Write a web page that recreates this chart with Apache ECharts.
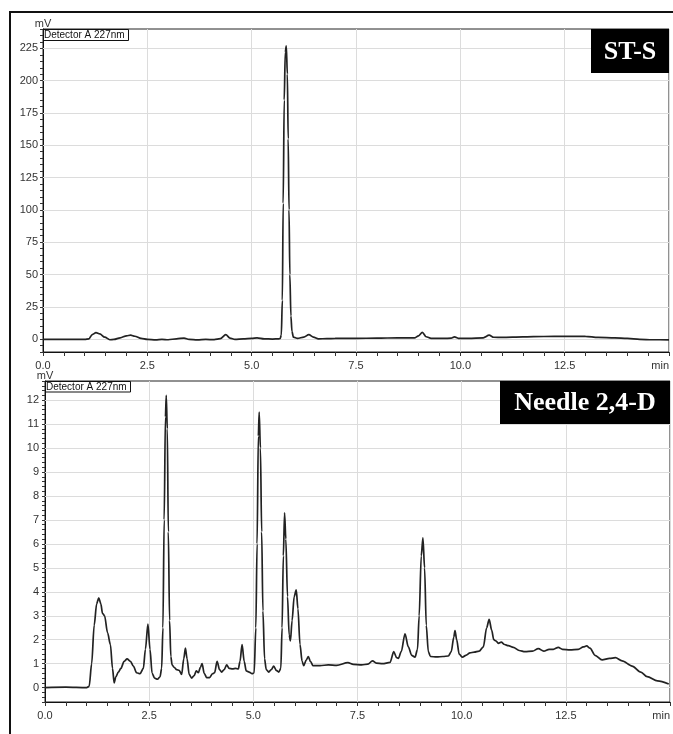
<!DOCTYPE html>
<html>
<head>
<meta charset="utf-8">
<script src="https://cdn.jsdelivr.net/npm/echarts@6/dist/echarts.min.js"></script>
<style>
  html, body { margin: 0; padding: 0; background: #fff; }
  #main { width: 673px; height: 734px; }
</style>
</head>
<body>
<div id="main"></div>
<script>
// ST-S chromatogram (time in min, signal in mV)
var stTime = [0.0, 0.5, 1.0, 1.1, 1.18, 1.27, 1.36, 1.48, 1.6, 1.7, 1.85, 2.0, 2.1, 2.2, 2.35, 2.5, 2.7, 2.85, 3.0, 3.2, 3.38, 3.5, 3.7, 3.9, 4.1, 4.25, 4.38, 4.48, 4.6, 4.8, 5.0, 5.13, 5.3, 5.5, 5.65,
  5.68, 5.71, 5.735, 5.755, 5.78, 5.805, 5.83, 5.855, 5.875, 5.895, 5.915, 5.94, 5.965, 6.0, 6.1, 6.25, 6.37, 6.48, 6.6, 6.8, 7.0, 7.5, 8.0, 8.5, 8.9,
  9.0, 9.09, 9.18, 9.3, 9.6, 9.78, 9.86, 9.95, 10.2, 10.55, 10.69, 10.8, 11.0, 11.5, 12.0, 12.5, 13.0, 13.3, 13.7, 14.0, 14.3, 14.6, 15.0];
var stMv = [-0.3, -0.3, -0.3, 0.2, 3.5, 5.0, 4.0, 1.5, -0.5, -0.3, 1.0, 2.5, 3.0, 2.2, 0.5, -0.3, -0.6, -0.2, -0.5, 0.2, 0.8, -0.2, -0.6, -0.3, -0.4, 0.3, 3.4, 0.8, -0.2, 0.2, 0.6, 1.0, 0.2, 0.0, 0.2,
  0.3, 3, 30, 105, 185, 222, 227, 205, 155, 100, 50, 18, 6, 1.5, 0.5, 1.5, 3.4, 1.5, 0.2, 0.3, 0.5, 0.6, 0.7, 1.0, 0.9,
  2.5, 5.2, 1.8, 0.6, 0.5, 0.7, 1.7, 0.6, 0.6, 1.0, 3.0, 1.4, 1.3, 1.7, 2.0, 2.2, 2.1, 1.3, 0.9, 0.5, -0.2, -0.5, -0.6];

// Needle 2,4-D chromatogram
var ndTime = [0.0, 0.5, 1.0, 1.06, 1.12, 1.18, 1.24, 1.29, 1.34, 1.38, 1.43, 1.5, 1.57, 1.62, 1.66, 1.7, 1.76, 1.82, 1.9, 1.97, 2.05, 2.12, 2.2, 2.28, 2.36, 2.41, 2.47, 2.52, 2.57, 2.63, 2.7, 2.76,
  2.8, 2.83, 2.86, 2.89, 2.91, 2.935, 2.96, 2.99, 3.02, 3.05, 3.1, 3.16, 3.22, 3.28, 3.33, 3.37, 3.41, 3.46, 3.52, 3.58, 3.63, 3.68, 3.73, 3.77, 3.82, 3.88, 3.95,
  4.02, 4.07, 4.13, 4.19, 4.24, 4.3, 4.36, 4.42, 4.5, 4.58, 4.64, 4.68, 4.73, 4.78, 4.83, 4.9, 4.97, 5.02, 5.06, 5.09, 5.12, 5.14, 5.17, 5.2, 5.23, 5.27, 5.31, 5.37, 5.43, 5.49, 5.55, 5.61, 5.66,
  5.69, 5.72, 5.75, 5.78, 5.82, 5.86, 5.89, 5.93, 5.98, 6.03, 6.07, 6.12, 6.17, 6.21, 6.27, 6.32, 6.37, 6.43, 6.6, 6.8, 7.0, 7.27, 7.4, 7.6, 7.75, 7.86, 7.95, 8.1, 8.28, 8.37, 8.44, 8.48,
  8.55, 8.64, 8.72, 8.8, 8.88, 8.94, 8.98, 9.03, 9.07, 9.11, 9.15, 9.2, 9.25, 9.4, 9.55, 9.68, 9.75, 9.81, 9.84, 9.88, 9.94, 10.02, 10.1, 10.2, 10.3, 10.42, 10.52, 10.6, 10.66, 10.72, 10.77,
  10.82, 10.88, 10.95, 11.03, 11.12, 11.24, 11.38, 11.52, 11.7, 11.84, 11.97, 12.1, 12.2, 12.32, 12.42, 12.6, 12.8, 12.92, 13.0, 13.08, 13.2, 13.37, 13.55, 13.69, 13.85, 14.09, 14.3, 14.45, 14.7, 14.97];
var ndMv = [0.0, 0.02, 0.0, 0.05, 1.0, 2.6, 3.5, 3.75, 3.5, 3.1, 3.0, 2.3, 1.8, 0.8, 0.2, 0.45, 0.65, 0.8, 1.1, 1.2, 1.1, 0.9, 0.62, 0.58, 0.8, 1.6, 2.65, 1.6, 0.6, 0.4, 0.35, 0.45,
  0.8, 2.5, 7.0, 11.3, 12.2, 10.8, 6.5, 2.8, 1.3, 0.95, 0.85, 0.75, 0.72, 0.55, 1.2, 1.65, 1.2, 0.55, 0.4, 0.5, 0.7, 0.62, 0.85, 1.0, 0.6, 0.42, 0.42,
  0.58, 0.62, 1.1, 0.75, 0.65, 0.75, 0.95, 0.8, 0.78, 0.8, 0.78, 1.1, 1.8, 1.1, 0.7, 0.65, 0.58, 0.62, 2.5, 6.0, 10.5, 11.5, 10.0, 6.5, 3.2, 1.2, 0.75, 0.65, 0.75, 0.9, 0.72, 0.65, 0.8,
  2.5, 5.5, 7.3, 6.2, 3.8, 2.2, 1.95, 2.8, 3.8, 4.08, 3.3, 1.8, 1.1, 0.92, 1.15, 1.3, 1.1, 0.92, 0.92, 0.95, 0.93, 1.04, 0.97, 0.95, 0.98, 1.12, 1.02, 1.0, 1.05, 1.5, 1.25, 1.22,
  1.5, 2.25, 1.7, 1.35, 1.27, 1.6, 3.0, 5.5, 6.25, 5.0, 2.6, 1.5, 1.3, 1.28, 1.3, 1.32, 1.5, 2.1, 2.38, 2.0, 1.4, 1.27, 1.35, 1.45, 1.48, 1.52, 1.7, 2.5, 2.85, 2.4, 2.0,
  1.95, 1.85, 1.9, 1.8, 1.75, 1.68, 1.55, 1.5, 1.52, 1.63, 1.52, 1.6, 1.6, 1.68, 1.6, 1.58, 1.6, 1.7, 1.74, 1.65, 1.35, 1.16, 1.22, 1.25, 1.12, 0.9, 0.65, 0.46, 0.28, 0.15];

// gridline / label values
var stGridY = [0, 25, 50, 75, 100, 125, 150, 175, 200, 225];
var ndGridY = [0, 1, 2, 3, 4, 5, 6, 7, 8, 9, 10, 11, 12];

function pairs(t, v) {
  return t.map(function (x, i) { return [x, v[i]]; });
}

var labelFont = { color: '#333', fontSize: 11, fontFamily: 'Liberation Sans, Arial, sans-serif' };

function xAxisFor(idx) {
  return {
    type: 'value', gridIndex: idx, min: 0, max: 15, interval: 2.5,
    axisLine: { show: true, onZero: false, lineStyle: { color: '#111', width: 1 } },
    axisTick: { show: true, length: 4, lineStyle: { color: '#333' } },
    minorTick: { show: true, splitNumber: 5, length: 4, lineStyle: { color: '#333' } },
    splitLine: { show: true, lineStyle: { color: '#dcdcdc', width: 1 } },
    axisLabel: Object.assign({
      margin: 8,
      alignMaxLabel: 'right',
      formatter: function (v) { return v === 15 ? 'min' : v.toFixed(1); }
    }, labelFont)
  };
}

function gridLines(vals) {
  return {
    silent: true, z: 1, symbol: ['none', 'none'], animation: false,
    label: { show: false },
    lineStyle: { color: '#dcdcdc', type: 'solid', width: 1 },
    data: vals.map(function (v) { return { yAxis: v }; })
  };
}

var chart = echarts.init(document.getElementById('main'));
chart.setOption({
  backgroundColor: '#fff',
  animation: false,
  grid: [
    { left: 43, top: 29, right: 4, bottom: 382, show: true, borderColor: '#222', borderWidth: 1, outerBoundsMode: 'none' },
    { left: 45, top: 381, right: 3, bottom: 32, show: true, borderColor: '#222', borderWidth: 1, outerBoundsMode: 'none' }
  ],
  xAxis: [xAxisFor(0), xAxisFor(1)],
  yAxis: [
    {
      type: 'value', gridIndex: 0, min: -10, max: 240, interval: 5,
      axisLine: { show: true, onZero: false, lineStyle: { color: '#111' } },
      axisTick: { show: true, length: 3, lineStyle: { color: '#333' } },
      splitLine: { show: false },
      axisLabel: Object.assign({
        margin: 5,
        formatter: function (v) { return v % 25 === 0 ? String(v) : ''; }
      }, labelFont)
    },
    {
      type: 'value', gridIndex: 1, min: -0.6, max: 12.8, interval: 0.2,
      axisLine: { show: true, onZero: false, lineStyle: { color: '#111' } },
      axisTick: { show: true, length: 3, lineStyle: { color: '#333' } },
      splitLine: { show: false },
      axisLabel: Object.assign({
        margin: 6,
        formatter: function (v) {
          var r = Math.round(v);
          return Math.abs(v - r) < 1e-6 && r >= 0 ? String(r) : '';
        }
      }, labelFont)
    }
  ],
  series: [
    {
      name: 'ST-S', type: 'line', xAxisIndex: 0, yAxisIndex: 0, z: 3,
      data: pairs(stTime, stMv), showSymbol: false, smooth: 0.3, smoothMonotone: 'x',
      lineStyle: { color: '#222', width: 1.7 },
      markLine: gridLines(stGridY)
    },
    {
      name: 'Needle 2,4-D', type: 'line', xAxisIndex: 1, yAxisIndex: 1, z: 3,
      data: pairs(ndTime, ndMv), showSymbol: false, smooth: 0.3, smoothMonotone: 'x',
      lineStyle: { color: '#222', width: 1.7 },
      markLine: gridLines(ndGridY)
    }
  ],
  graphic: [
    // outer frame
    { type: 'rect', shape: { x: 10, y: 12, width: 720, height: 760 }, style: { fill: 'none', stroke: '#111', lineWidth: 2 }, z: 10 },
    // top panel annotations
    { type: 'text', x: 43, y: 29, style: { text: 'mV', font: '11px Liberation Sans', fill: '#333', textAlign: 'center', textVerticalAlign: 'bottom' }, z: 10 },
    { type: 'rect', shape: { x: 43.5, y: 29.5, width: 85, height: 11 }, style: { fill: 'none', stroke: '#111', lineWidth: 1 }, z: 10 },
    { type: 'text', x: 44, y: 35.5, style: { text: 'Detector A 227nm', font: '10px Liberation Sans', fill: '#111', textVerticalAlign: 'middle' }, z: 11 },
    { type: 'rect', shape: { x: 591, y: 29, width: 78, height: 44 }, style: { fill: '#000' }, z: 10 },
    { type: 'text', x: 630, y: 52, style: { text: 'ST-S', font: 'bold 26px Liberation Serif', fill: '#fff', textAlign: 'center', textVerticalAlign: 'middle' }, z: 11 },
    // bottom panel annotations
    { type: 'text', x: 45, y: 381, style: { text: 'mV', font: '11px Liberation Sans', fill: '#333', textAlign: 'center', textVerticalAlign: 'bottom' }, z: 10 },
    { type: 'rect', shape: { x: 45.5, y: 381.5, width: 85, height: 10.5 }, style: { fill: 'none', stroke: '#111', lineWidth: 1 }, z: 10 },
    { type: 'text', x: 46, y: 387, style: { text: 'Detector A 227nm', font: '10px Liberation Sans', fill: '#111', textVerticalAlign: 'middle' }, z: 11 },
    { type: 'rect', shape: { x: 500, y: 381, width: 170, height: 43 }, style: { fill: '#000' }, z: 10 },
    { type: 'text', x: 585, y: 403, style: { text: 'Needle 2,4-D', font: 'bold 26px Liberation Serif', fill: '#fff', textAlign: 'center', textVerticalAlign: 'middle' }, z: 11 }
  ]
});
</script>
</body>
</html>
